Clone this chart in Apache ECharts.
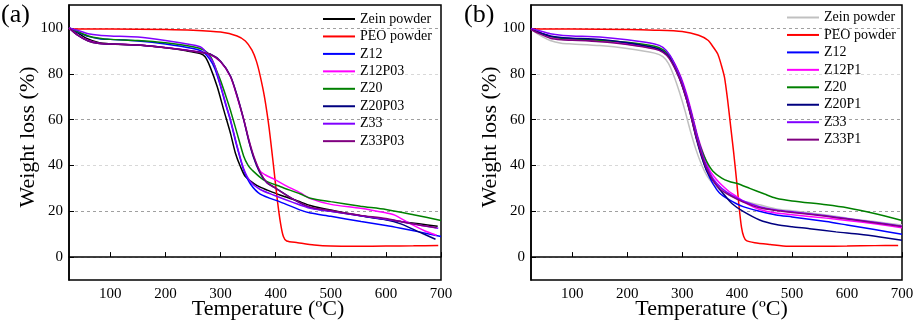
<!DOCTYPE html>
<html>
<head>
<meta charset="utf-8">
<script src="https://cdn.jsdelivr.net/npm/echarts@6/dist/echarts.min.js"></script>
<style>
  html, body { margin: 0; padding: 0; background: #fff; }
  #chart { width: 913px; height: 324px; }
</style>
</head>
<body>
<div id="chart"></div>
<script>
// tick values shared by both panels
const xTicks = [100, 200, 300, 400, 500, 600, 700];
const yTicks = [0, 20, 40, 60, 80, 100];

// ---- panel (a): [temperature, weight %]
const zeinA = [[25,100],[40,98],[56,95.5],[80,93.5],[100,93],[150,92.5],[200,91.3],[238,90],[263,88.8],[272,87.4],[281,83],[294,74.3],[306,64],[318,54],[327,45.3],[336,39.5],[345,35.1],[360,32.2],[372,30.5],[385,29.2],[409,27],[440,24.5],[463,22.5],[500,20.5],[555,18],[600,16.4],[627,15.5],[660,14.5],[694,13.5]];
const peoA = [[25,99.5],[100,99.5],[200,99.3],[250,99],[300,98.2],[330,96.5],[345,94.3],[357,90.3],[365,85.5],[372,79],[380,69.5],[388,56.5],[396,40],[403,25],[409,14.5],[414,9],[420,7],[440,6.3],[470,5.3],[500,4.8],[550,4.7],[600,4.8],[650,4.9],[695,5.1]];
const z12A = [[25,100],[40,98.3],[60,96.3],[80,95.3],[100,95],[150,94.3],[200,93],[250,91],[268,89.5],[280,86.5],[290,82],[300,74.5],[310,66],[318,59.5],[330,48],[342,38],[354,32],[372,27.5],[409,24],[445,20.5],[463,19.2],[500,17.8],[555,15.5],[600,13.8],[627,12.6],[660,11],[700,9]];
const z12p03A = [[25,100],[40,97],[60,94.5],[80,93.3],[100,93],[150,92.5],[200,91.5],[240,90.3],[263,89.5],[281,88.5],[300,85.2],[318,78.7],[330,70],[342,59.8],[351,51],[360,43.8],[372,37.5],[384,35.5],[397,34],[420,31],[445,28],[463,25.5],[500,23],[554,21.3],[600,19.3],[615,18.4],[645,14.5],[670,11.5],[692,9.5]];
const z20A = [[25,100],[40,98.5],[60,96.5],[80,95.5],[100,95],[150,94.5],[200,93.5],[250,91.8],[270,90.3],[282,87.5],[290,83],[300,77],[310,70],[318,64],[330,54],[342,44],[350,40],[357,38],[378,33.7],[409,30.7],[445,27.5],[463,25.7],[500,24.2],[554,22.2],[600,20.8],[650,18.5],[700,16]];
const z20p03A = [[25,100],[40,97],[60,94.3],[80,93.2],[100,93],[150,92.5],[200,91.4],[240,90.2],[263,89.4],[281,88.6],[300,85.5],[318,79],[330,70.5],[342,60],[351,51],[360,43.5],[372,36.5],[384,32.5],[397,30.5],[430,25.5],[463,21.5],[500,20],[554,18],[600,16.3],[627,14.5],[660,11],[690,7.8]];
const z33A = [[25,100],[40,99],[60,97.5],[80,96.8],[100,96.5],[150,96],[200,94.5],[250,92.5],[265,91.5],[275,89],[288,84.5],[300,75],[310,66.5],[318,60],[330,48.5],[342,38.5],[354,33],[372,29.5],[397,27],[430,24],[463,21.3],[500,20],[554,18],[600,16.5],[627,15.5],[660,14],[695,12.6]];
const z33p03A = [[25,100],[40,97],[60,94.3],[80,93.2],[100,93],[150,92.5],[200,91.3],[240,90.1],[263,89.3],[281,88.5],[300,85.3],[318,78.8],[330,70.2],[342,60.2],[351,51.5],[360,44.2],[372,37],[384,32.5],[397,30.5],[430,25.5],[463,21.8],[500,20.3],[554,18.2],[600,16.8],[627,15.5],[660,14],[692,12.8]];

// ---- panel (b)
const zeinB = [[25,99.5],[40,97],[60,94.5],[80,93.3],[100,93],[150,92.3],[200,91],[250,89],[265,87.5],[275,84.5],[285,79],[295,72],[305,64],[315,55],[325,47],[335,40.5],[345,35.5],[356,32],[370,29],[386,27],[411,24.5],[441,22.8],[471,21],[500,20.2],[562,18.4],[600,17],[650,15.5],[700,14]];
const peoB = [[25,99.5],[100,99.5],[200,99.3],[250,99],[300,98.4],[330,96.8],[347,94.6],[357,91.5],[365,88.5],[371,84],[377,78.5],[383,68],[389,55.5],[394,45],[399,33.5],[404,21],[408,13],[412,9],[417,7.2],[432,6.3],[460,5.5],[493,4.7],[550,4.7],[600,4.8],[650,5],[693,5.1]];
const z12B = [[25,99.5],[40,98],[60,96.3],[80,95.5],[100,95.2],[150,94.5],[200,93.2],[250,91.2],[265,89.8],[277,87.2],[295,78.5],[307,70],[317,61],[326,52],[335,44.5],[344,38],[356,32],[368,28],[386,25],[411,22],[441,20],[471,18.4],[500,17.5],[562,15.5],[600,14],[650,12],[700,10]];
const z12p1B = [[25,99.5],[40,98],[60,96],[80,95.2],[100,95],[150,94.3],[200,93],[250,91],[265,89.7],[280,87],[297,79],[309,70.5],[319,61.5],[328,53],[338,45.5],[350,38],[362,34],[374,31],[386,28.5],[399,26.4],[420,23],[441,20.8],[471,19.2],[500,18.5],[562,17],[600,16],[650,14.5],[700,12.8]];
const z20B = [[25,99.5],[40,98],[60,96.3],[80,95.5],[100,95.3],[150,94.6],[200,93.7],[250,92],[265,90.5],[277,88],[295,79.5],[307,71],[317,62.5],[326,54],[335,47],[344,42],[356,37.5],[372,34.5],[386,33],[399,32.2],[423,30],[450,27.5],[471,25.7],[500,24.5],[562,22.8],[600,21.5],[650,19],[700,16]];
const z20p1B = [[25,99.5],[40,98],[60,96.5],[80,95.8],[100,95.5],[150,95],[200,93.5],[250,91.3],[265,89.8],[277,87],[295,78],[307,69.5],[317,60.5],[326,51.5],[335,44],[344,38],[350,35.5],[362,31.5],[374,27.9],[390,23.5],[411,19.9],[441,16.2],[471,14.2],[500,13.2],[532,12.4],[580,11],[623,10],[660,8.8],[700,7.3]];
const z33B = [[25,99.8],[40,98.8],[60,97.5],[80,96.8],[100,96.5],[150,96],[200,94.8],[250,93],[265,91.5],[278,88],[296,79],[308,70.5],[318,61.5],[327,53],[336,45.5],[345,39.5],[357,34],[372,30],[390,27],[411,24.5],[441,22],[471,20.5],[500,19.8],[562,18],[600,16.8],[650,15.2],[700,13.5]];
const z33p1B = [[25,99.3],[40,97.5],[60,95.5],[80,94.8],[100,94.6],[150,94],[200,92.8],[250,90.8],[265,89.3],[277,86.5],[295,78],[307,69.5],[317,60.5],[326,52],[335,45],[344,39],[356,33.5],[370,29.5],[390,26.5],[411,24],[441,21.5],[471,20.3],[500,19.5],[562,17.8],[600,16.6],[650,15],[700,13.3]];

const namesA = ['Zein powder', 'PEO powder', 'Z12', 'Z12P03', 'Z20', 'Z20P03', 'Z33', 'Z33P03'];
const namesB = ['Zein powder', 'PEO powder', 'Z12', 'Z12P1', 'Z20', 'Z20P1', 'Z33', 'Z33P1'];
const colorsA = ['#000000', '#ff0000', '#0000ff', '#ff00ff', '#008000', '#000080', '#8000ff', '#800080'];
const colorsB = ['#c0c0c0', '#ff0000', '#0000ff', '#ff00ff', '#008000', '#000080', '#8000ff', '#800080'];
const dataA = [zeinA, peoA, z12A, z12p03A, z20A, z20p03A, z33A, z33p03A];
const dataB = [zeinB, peoB, z12B, z12p1B, z20B, z20p1B, z33B, z33p1B];

const serif = '"Liberation Serif", "Times New Roman", serif';

function xAxis(gi, pad) {
    return {
        type: 'value', gridIndex: gi, min: 25, max: 700,
        name: 'Temperature (ºC)', nameLocation: 'middle', nameGap: 18, nameMoveOverlap: false,
        nameTextStyle: { fontFamily: serif, fontSize: 22, color: '#000', padding: pad },
        axisLine: { lineStyle: { color: '#000', width: 1.5 } },
        axisTick: { inside: true, length: 5, customValues: xTicks, lineStyle: { color: '#000' } },
        axisLabel: { customValues: xTicks, fontFamily: serif, fontSize: 15, color: '#000', margin: 7 },
        splitLine: { show: false }
    };
}

function yAxis(gi) {
    return {
        type: 'value', gridIndex: gi, min: -10, max: 110, interval: 10,
        name: 'Weight loss (%)', nameLocation: 'middle', nameGap: 30, nameMoveOverlap: false,
        nameTextStyle: { fontFamily: serif, fontSize: 22, color: '#000', padding: [0, 0, 0, 11] },
        axisLine: { lineStyle: { color: '#000', width: 1.5 } },
        axisTick: { inside: true, length: 5, customValues: yTicks, lineStyle: { color: '#000' } },
        axisLabel: {
            fontFamily: serif, fontSize: 15, color: '#000', margin: 6,
            formatter: v => (v >= 0 && v <= 100 && v % 20 === 0) ? String(v) : ''
        },
        splitLine: { show: true, lineStyle: { type: [3, 3], width: 1, color: ['#d8d8d8', '#a0a0a0'] } }
    };
}

// series names carry a prefix so the two legends keep their own colours
function buildSeries(prefix, names, colors, data, gi) {
    return names.map((n, i) => ({
        name: prefix + n, type: 'line', xAxisIndex: gi, yAxisIndex: gi,
        data: data[i], showSymbol: false, symbol: 'none', smooth: 0.25,
        lineStyle: { color: colors[i], width: 1.5 }, itemStyle: { color: colors[i] },
        z: 2
    }));
}

function legend(prefix, names, left, top) {
    return {
        orient: 'vertical', left: left, top: top, padding: 0,
        data: names.map(n => prefix + n),
        formatter: name => name.slice(2),
        icon: 'rect', itemWidth: 32, itemHeight: 2, itemGap: 3.45,
        selectedMode: false,
        textStyle: { fontFamily: serif, fontSize: 14, color: '#000', lineHeight: 14 }
    };
}

const chart = echarts.init(document.getElementById('chart'));
chart.setOption({
    animation: false,
    backgroundColor: '#fff',
    grid: [
        { left: 69, top: 5, width: 372, height: 275, show: true, borderColor: '#000', borderWidth: 1.5, outerBoundsMode: 'none', containLabel: false },
        { left: 531, top: 5, width: 371, height: 275, show: true, borderColor: '#000', borderWidth: 1.5, outerBoundsMode: 'none', containLabel: false }
    ],
    xAxis: [xAxis(0, [0, 0, 0, 26]), xAxis(1, [0, 10, 0, 0])],
    yAxis: [yAxis(0), yAxis(1)],
    legend: [legend('a|', namesA, 323, 12), legend('b|', namesB, 787, 10.5)],
    graphic: [
        { type: 'text', left: 1, top: 2, style: { text: '(a)', font: '26px ' + serif, fill: '#000' } },
        { type: 'text', left: 464, top: 2, style: { text: '(b)', font: '26px ' + serif, fill: '#000' } }
    ],
    series: buildSeries('a|', namesA, colorsA, dataA, 0).concat(buildSeries('b|', namesB, colorsB, dataB, 1))
});
</script>
</body>
</html>
